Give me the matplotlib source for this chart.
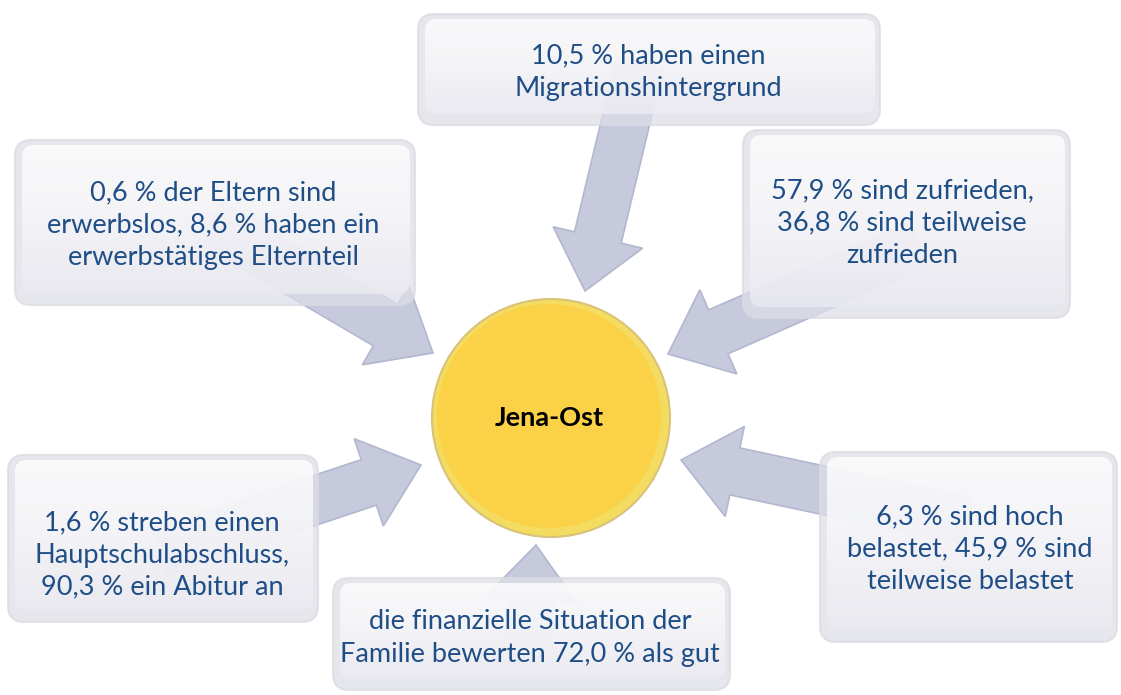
import numpy as np
import matplotlib.pyplot as plt
from matplotlib.patches import FancyBboxPatch, FancyArrow, Circle
from matplotlib.colors import LinearSegmentedColormap

plt.rcParams['font.family'] = ['Lato', 'DejaVu Sans']

center_label = "Jena-Ost"
box_texts = [
    "10,5 % haben einen\nMigrationshintergrund",
    "0,6 % der Eltern sind\nerwerbslos, 8,6 % haben ein\nerwerbstätiges Elternteil",
    "57,9 % sind zufrieden,\n36,8 % sind teilweise\nzufrieden",
    "1,6 % streben einen\nHauptschulabschluss,\n90,3 % ein Abitur an",
    "die finanzielle Situation der\nFamilie bewerten 72,0 % als gut",
    "6,3 % sind hoch\nbelastet, 45,9 % sind\nteilweise belastet",
]

# layout in pixel coords (x0, y0, x1, y1) of each box
boxes = [(418, 14, 880, 125), (15, 140, 415, 305), (743, 130, 1070, 318),
         (8, 455, 318, 622), (333, 578, 730, 690), (820, 452, 1117, 642)]
text_pos = [(648, 72), (213, 225), (902, 223), (162, 555), (530, 638), (970, 549)]
# arrows: tail -> tip
arrows = [((640, 62), (585, 291)), ((210, 222), (433, 353)), ((918, 244), (668, 354)),
          ((160, 552), (421, 465)), ((528, 645), (536, 545)), ((968, 521), (681, 460))]

fig = plt.figure(figsize=(11.21, 6.95), dpi=100)
ax = fig.add_axes([0, 0, 1, 1])
ax.set_xlim(0, 1121)
ax.set_ylim(695, 0)
ax.axis('off')

for (x0, y0), (x1, y1) in arrows:
    ax.add_patch(FancyArrow(x0, y0, x1 - x0, y1 - y0, width=48, head_width=92,
                            head_length=55, length_includes_head=True,
                            facecolor='#c6cadc', edgecolor='#b3b7cf', lw=1.2, zorder=1))

grad = np.linspace(0, 1, 100).reshape(-1, 1)
cmap = LinearSegmentedColormap.from_list('g', ['#fefefe', '#f6f6f9', '#e8e8ef'])
for (x0, y0, x1, y1), txt, (tx, ty) in zip(boxes, box_texts, text_pos):
    outer = FancyBboxPatch((x0, y0), x1 - x0, y1 - y0, boxstyle='round,pad=0,rounding_size=16',
                           facecolor='#dedee8', edgecolor='#dadae2', lw=1.5, alpha=0.75, zorder=2)
    ax.add_patch(outer)
    inner = FancyBboxPatch((x0 + 7, y0 + 5), x1 - x0 - 12, y1 - y0 - 16,
                           boxstyle='round,pad=0,rounding_size=12',
                           facecolor='none', edgecolor='none', zorder=3)
    ax.add_patch(inner)
    im = ax.imshow(grad, cmap=cmap, extent=(x0, x1, y1, y0),
                   aspect='auto', alpha=0.85, zorder=3)
    im.set_clip_path(inner)
    ax.text(tx, ty, txt, ha='center', va='center', fontsize=19.5, color='#1f4e87',
            linespacing=1.36, zorder=5)

ax.add_patch(Circle((551, 418), 119, facecolor='#f3dc60', edgecolor='#d9c27a', lw=1.5, zorder=4))
ax.add_patch(Circle((549, 416), 112, facecolor='#fbd247', edgecolor='none', zorder=4))
ax.text(549, 418, center_label, ha='center', va='center', fontsize=19.5, fontweight='bold',
        color='black', zorder=5)

fig.savefig('out.png', dpi=100)
